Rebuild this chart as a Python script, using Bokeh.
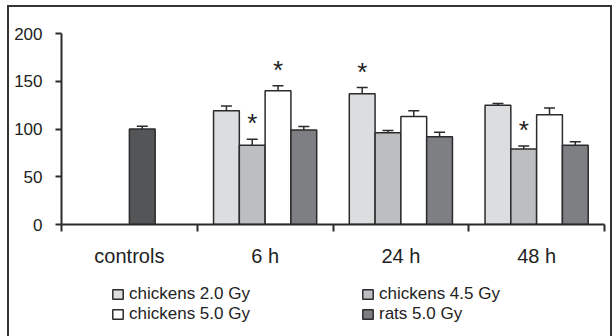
from bokeh.plotting import figure
from bokeh.layouts import column
from bokeh.models import (ColumnDataSource, Whisker, TeeHead, Legend, LegendItem,
                          FixedTicker, Range1d)
from bokeh.core.properties import value
from bokeh.embed import file_html
from bokeh.resources import INLINE

# ---------------- data ----------------
categories = ["controls", "6 h", "24 h", "48 h"]
y_ticks = [0, 50, 100, 150, 200]

series_names = ["chickens 2.0 Gy", "chickens 4.5 Gy", "chickens 5.0 Gy", "rats 5.0 Gy"]
group_idx = [1, 2, 3]          # 6 h, 24 h, 48 h

chick20 = [119, 137, 125]
chick20_err = [5.2, 6.4, 1.7]
chick45 = [83, 96, 79]
chick45_err = [6.2, 2.3, 3.2]
chick50 = [140, 113, 115]
chick50_err = [5.3, 6.2, 7.0]
rats50 = [99, 92, 83]
rats50_err = [3.6, 4.5, 3.7]

controls_val = [100]
controls_err = [3]

sig_chick20 = [False, True, False]
sig_chick45 = [True, False, True]
sig_chick50 = [True, False, False]
sig_rats50 = [False, False, False]

colors = ["#dcdddf", "#bdbec2", "#ffffff", "#7e7f83"]
controls_color = "#545557"
edge = "#2b2b2b"
FONT = "Liberation Sans"

# ---------------- main figure ----------------
p = figure(width=601, height=277, x_range=Range1d(0, 4), y_range=Range1d(0, 200),
           output_backend="svg", toolbar_location=None,
           min_border_left=52, min_border_right=6, min_border_top=26, min_border_bottom=60)
p.xgrid.visible = False
p.ygrid.visible = False
p.outline_line_color = None
p.background_fill_color = "white"
p.border_fill_color = "white"

bar_w = 0.19
offsets = [-1.5 * bar_w, -0.5 * bar_w, 0.5 * bar_w, 1.5 * bar_w]

series_vals = [chick20, chick45, chick50, rats50]
series_errs = [chick20_err, chick45_err, chick50_err, rats50_err]
series_sig = [sig_chick20, sig_chick45, sig_chick50, sig_rats50]

for k, (vals, errs, sig) in enumerate(zip(series_vals, series_errs, series_sig)):
    xs = [g + 0.5 + offsets[k] for g in group_idx]
    src = ColumnDataSource(dict(x=xs, top=vals,
                                upper=[v + e for v, e in zip(vals, errs)],
                                lower=[v - e for v, e in zip(vals, errs)]))
    p.vbar(x="x", top="top", width=bar_w, source=src, fill_color=colors[k],
           line_color=edge, line_width=1.5)
    w = Whisker(base="x", upper="upper", lower="lower", source=src,
                line_color=edge, line_width=1.5,
                upper_head=TeeHead(size=11, line_color=edge, line_width=1.5),
                lower_head=TeeHead(size=11, line_color=edge, line_width=1.5))
    p.add_layout(w)
    sx = [x for x, s in zip(xs, sig) if s]
    sy = [v + e for v, e, s in zip(vals, errs, sig) if s]
    if sx:
        p.text(x=sx, y=sy, text=["*"] * len(sx), text_align="center",
               text_baseline="middle", y_offset=-16,
               text_font=value(FONT), text_font_size="26px", text_color="#222")

# controls bar
cx = [0.5 + offsets[2]]
csrc = ColumnDataSource(dict(x=cx, top=controls_val,
                             upper=[v + e for v, e in zip(controls_val, controls_err)],
                             lower=[v - e for v, e in zip(controls_val, controls_err)]))
p.vbar(x="x", top="top", width=bar_w, source=csrc, fill_color=controls_color,
       line_color=edge, line_width=1.5)
p.add_layout(Whisker(base="x", upper="upper", lower="lower", source=csrc,
                     line_color=edge, line_width=1.5,
                     upper_head=TeeHead(size=11, line_color=edge, line_width=1.5),
                     lower_head=TeeHead(size=11, line_color=edge, line_width=1.5)))

# axes
xa = p.xaxis[0]
xa.ticker = FixedTicker(ticks=[i + 0.5 for i in range(len(categories))],
                        minor_ticks=list(range(len(categories) + 1)))
xa.major_label_overrides = {i + 0.5: c for i, c in enumerate(categories)}
xa.major_tick_line_color = None
xa.major_tick_out = 0
xa.major_tick_in = 0
xa.minor_tick_out = 7
xa.minor_tick_in = 0
xa.minor_tick_line_color = edge
xa.minor_tick_line_width = 2
xa.axis_line_color = edge
xa.axis_line_width = 2
xa.major_label_standoff = 13
xa.major_label_text_font = FONT
xa.major_label_text_font_size = "20px"
xa.major_label_text_color = "#222"

ya = p.yaxis[0]
ya.ticker = FixedTicker(ticks=y_ticks, minor_ticks=[])
ya.major_tick_out = 6
ya.major_tick_in = 0
ya.major_tick_line_color = edge
ya.major_tick_line_width = 2
ya.axis_line_color = edge
ya.axis_line_width = 2
ya.major_label_standoff = 13
ya.major_label_text_font = FONT
ya.major_label_text_font_size = "17px"
ya.major_label_text_color = "#222"

# ---------------- legend strip ----------------
lf = figure(width=601, height=52, x_range=Range1d(0, 1), y_range=Range1d(0, 1),
            output_backend="svg", toolbar_location=None,
            min_border_left=52, min_border_right=6, min_border_top=0, min_border_bottom=0)
lf.axis.visible = False
lf.xgrid.visible = False
lf.ygrid.visible = False
lf.outline_line_color = None
lf.border_fill_color = "white"

# hidden legend proxies carrying the series styles
leg_renderers = []
for k in range(4):
    r = lf.vbar(x=[0.5], top=[1], width=0.1, fill_color=colors[k],
                line_color=edge, line_width=1.5)
    r.visible = False
    leg_renderers.append(r)


def make_legend(idx, loc):
    return Legend(items=[LegendItem(label=series_names[k], renderers=[leg_renderers[k]]) for k in idx],
                  location=loc, orientation="vertical", click_policy="none",
                  padding=0, margin=0, spacing=0, border_line_color=None,
                  background_fill_alpha=0, glyph_width=13, glyph_height=12,
                  label_standoff=5, label_height=16, inactive_fill_alpha=0,
                  label_text_font=FONT, label_text_font_size="17px",
                  label_text_color="#222")


lf.add_layout(make_legend([0, 2], (50, 12)), "center")
lf.add_layout(make_legend([1, 3], (300, 12)), "center")

layout = column(p, lf, spacing=0)
layout.styles = {"margin-left": "7px", "margin-top": "5px",
                 "border-top": "2px solid #333", "border-left": "2px solid #333",
                 "border-right": "2px solid #333"}

open("out.html", "w").write(file_html(layout, INLINE))
